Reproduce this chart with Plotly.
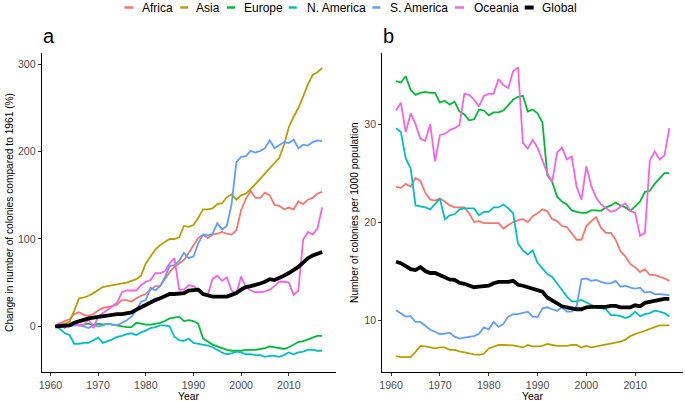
import plotly.graph_objects as go

W, H = 685, 401
years = list(range(1961, 2018))

names = ["Africa", "Asia", "Europe", "N. America", "S. America", "Oceania", "Global"]
colors = ["#F8766D", "#B79F00", "#00BA38", "#00BFC4", "#619CFF", "#F564E3", "#000000"]

# Panel a: change in number of colonies compared to 1961 (%)
a_africa = [0, 3, 6, 8, 14, 16, 13, 12, 14, 18,
            21, 22, 23, 25, 30, 30, 28, 32, 35, 37,
            42, 46, 46, 54, 62, 68, 72, 76, 84, 92,
            101, 105, 101, 105, 106, 108, 106, 105, 110, 133,
            146, 155, 147, 147, 153, 150, 139, 138, 134, 136,
            134, 143, 140, 145, 147, 152, 154]
a_asia = [0, 3, 3, 5, 18, 32, 33, 35, 38, 42,
          45, 46, 47, 48, 49, 50, 52, 54, 58, 72,
          80, 88, 93, 97, 100, 100, 102, 115, 114, 116,
          124, 134, 134, 135, 140, 141, 148, 151, 145, 150,
          152, 157, 163, 168, 174, 181, 187, 193, 208, 228,
          240, 250, 263, 277, 288, 291, 296]
a_europe = [0, 2, 1, 1, 2, 1, 2, 3, 2, 3,
            2, 3, 2, 1, 0, -1, -1, 4, 3, 2,
            2, 3, 4, 6, 9, 10, 11, 6, 7, 6,
            3, -14, -18, -21, -23, -25, -27, -28, -28, -28,
            -27, -27, -27, -26, -25, -23, -24, -25, -26, -24,
            -21, -18, -17, -15, -13, -11, -11]
a_namerica = [0, -3, -8, -10, -20, -20, -19, -19, -16, -13,
              -19, -17, -15, -12, -11, -9, -8, -10, -7, -5,
              -2, -1, 1, 1, 0, -12, -16, -17, -14, -19,
              -20, -21, -22, -24, -27, -30, -32, -31, -29, -30,
              -32, -32, -33, -33, -35, -34, -34, -35, -33, -30,
              -32, -30, -29, -27, -27, -28, -28]
a_samerica = [0, 2, 1, 0, 1, 1, 0, -2, 1, 0,
              1, 3, 2, 1, 4, 7, 11, 18, 28, 30,
              44, 41, 46, 56, 69, 70, 75, 84, 78, 80,
              95, 105, 104, 106, 118, 111, 115, 140, 188, 194,
              195, 201, 199, 201, 204, 213, 204, 208, 211, 210,
              214, 204, 208, 207, 211, 213, 212]
a_oceania = [0, 4, -2, 3, 3, 1, 2, 8, -2, 11,
             15, 19, 23, 27, 39, 41, 41, 41, 47, 51,
             53, 61, 61, 63, 72, 78, 42, 42, 47, 46,
             42, 36, 36, 54, 58, 52, 56, 41, 37, 57,
             45, 41, 39, 39, 40, 42, 46, 51, 51, 50,
             36, 41, 99, 108, 105, 112, 136]
a_global = [0, 0, 0, 1, 4, 6, 7, 9, 10, 11,
            11, 12, 13, 14, 14, 15, 16, 19, 22, 25,
            28, 30, 32, 34, 37, 37, 37, 38, 41, 41,
            42, 37, 35, 34, 34, 34, 34, 36, 38, 42,
            45, 46, 47, 49, 51, 54, 53, 55, 58, 61,
            64, 68, 73, 78, 81, 83, 85]

# Panel b: number of colonies per 1000 population
b_africa = [23.6, 23.5, 23.9, 23.6, 24.5, 24.2, 23.0, 22.3, 22.2, 22.4,
            22.1, 21.7, 21.5, 21.5, 21.5, 20.9, 20.0, 20.1, 19.9, 19.9,
            19.9, 19.9, 19.35, 19.7, 20.0, 20.2, 20.3, 20.0, 20.6, 20.9,
            21.3, 21.1, 20.3, 20.1, 19.6, 19.5, 18.8, 18.2, 18.2, 19.6,
            20.1, 20.5, 19.4, 18.9, 18.9, 18.2, 17.0, 16.5, 15.7, 15.4,
            14.9, 15.2, 14.6, 14.6, 14.4, 14.25, 14.0]
b_asia = [6.3, 6.2, 6.2, 6.2, 6.75, 7.35, 7.3, 7.2, 7.1, 7.2,
          7.2, 6.95, 6.95, 6.8, 6.7, 6.55, 6.5, 6.45, 6.55, 7.1,
          7.3, 7.45, 7.45, 7.45, 7.4, 7.3, 7.2, 7.45, 7.3, 7.3,
          7.35, 7.55, 7.45, 7.35, 7.35, 7.35, 7.45, 7.45, 7.2, 7.35,
          7.2, 7.3, 7.4, 7.45, 7.55, 7.7, 7.8, 8.0, 8.35, 8.55,
          8.7, 8.9, 9.1, 9.3, 9.45, 9.45, 9.45]
b_europe = [34.4, 34.25, 34.9, 33.5, 33.0, 33.2, 33.3, 33.2, 33.2, 32.2,
            32.4, 32.0, 32.3, 31.3, 31.0, 30.4, 30.5, 31.5, 31.4, 30.9,
            31.2, 31.2, 31.4, 31.9, 32.5, 32.8, 32.9, 31.3, 31.5, 31.1,
            30.2, 24.8, 24.1, 22.6, 22.1, 21.8, 21.2, 21.05, 20.95, 20.95,
            21.2, 21.2, 21.15, 21.5, 21.7, 22.0, 21.7, 21.5, 21.15, 21.6,
            22.1, 23.1, 23.2, 23.9, 24.5, 25.0, 25.0]
b_namerica = [29.6, 29.2, 26.5, 25.5, 21.7, 21.6, 21.5, 21.3, 21.8, 22.4,
              20.3, 20.7, 20.8, 21.3, 21.4, 21.4, 21.4, 20.7, 21.05, 21.05,
              21.5, 21.5, 21.8, 21.4, 20.9, 17.8, 17.1, 16.7, 17.1, 15.85,
              15.3, 14.7, 14.4, 13.7, 13.0, 12.4, 11.9, 11.9, 12.05, 11.8,
              11.5, 11.3, 11.2, 11.1, 10.5, 10.5, 10.4, 10.2, 10.4, 10.85,
              10.4, 10.6, 10.7, 10.95, 10.85, 10.7, 10.35]
b_samerica = [11.0, 10.7, 10.35, 10.4, 9.8, 9.8, 9.4, 9.0, 8.8, 8.55,
              8.6, 8.7, 8.3, 8.1, 8.2, 8.3, 8.35, 8.6, 9.25, 9.05,
              9.8, 9.3, 9.6, 10.35, 10.6, 10.6, 10.7, 10.85, 10.35, 10.3,
              11.2, 11.3, 11.1, 10.95, 11.3, 10.85, 10.85, 11.4, 14.15, 14.25,
              14.0, 14.1, 13.9, 13.75, 13.75, 14.0, 13.4, 13.5, 13.3, 13.2,
              13.3, 12.8, 12.9, 12.65, 12.65, 12.6, 12.55]
b_oceania = [31.4, 32.2, 29.2, 31.1, 30.0, 28.5, 28.3, 30.0, 26.2, 28.9,
             29.0, 29.4, 29.6, 29.9, 33.1, 33.0, 32.5, 31.8, 32.9, 33.1,
             33.1, 34.6, 34.0, 33.7, 35.4, 35.8, 28.1, 27.5, 28.4, 27.6,
             26.3, 25.0, 24.1, 27.1, 27.6, 26.4, 26.7, 23.6, 22.3, 25.7,
             23.7, 22.5, 21.8, 21.4, 21.05, 21.2, 21.6, 21.9, 21.15, 20.95,
             18.6, 18.9, 26.3, 27.2, 26.4, 26.8, 29.6]
b_global = [15.95, 15.8, 15.5, 15.2, 15.1, 15.4, 15.0, 14.8, 14.8, 14.6,
            14.3, 14.15, 14.1, 13.8, 13.7, 13.5, 13.35, 13.4, 13.45, 13.5,
            13.75, 13.9, 13.9, 13.9, 14.0, 13.6, 13.5, 13.35, 13.2, 13.05,
            12.9, 12.3, 12.0, 11.7, 11.4, 11.3, 11.2, 11.1, 11.1, 11.3,
            11.35, 11.35, 11.35, 11.35, 11.45, 11.45, 11.3, 11.3, 11.3, 11.5,
            11.4, 11.75, 11.85, 12.0, 12.1, 12.15, 12.15]

x_ticks = [1960, 1970, 1980, 1990, 2000, 2010]
ya_ticks = [0, 100, 200, 300]
yb_ticks = [10, 20, 30]

panel_a = [a_africa, a_asia, a_europe, a_namerica, a_samerica, a_oceania, a_global]
panel_b = [b_africa, b_asia, b_europe, b_namerica, b_samerica, b_oceania, b_global]

FONT = "Liberation Sans, Arial, sans-serif"

fig = go.Figure()
for data, xa, ya in [(panel_a, "x", "y"), (panel_b, "x2", "y2")]:
    for name, col, vals in zip(names, colors, data):
        fig.add_trace(go.Scatter(
            x=years, y=vals, mode="lines", name=name,
            line=dict(color=col, width=3.8 if name == "Global" else 1.8),
            xaxis=xa, yaxis=ya, showlegend=False,
        ))

def px_x(p):
    return p / W

def px_y(p):
    return 1 - p / H

axis_common = dict(
    showline=True, linecolor="black", linewidth=1.1,
    ticks="outside", ticklen=3, tickwidth=1, tickcolor="#333333",
    tickfont=dict(family=FONT, size=10.6, color="#4D4D4D"),
    showgrid=False, zeroline=False,
)
ydom = [px_y(372.3), px_y(53.3)]

fig.update_layout(
    width=W, height=H,
    margin=dict(l=0, r=0, t=0, b=0),
    paper_bgcolor="white", plot_bgcolor="white",
    font=dict(family=FONT, color="black"),
    xaxis=dict(domain=[px_x(39), px_x(334)], range=[1958.2, 2019.8],
               tickvals=x_ticks, anchor="y", **axis_common),
    yaxis=dict(domain=ydom, range=[-52.7, 312.7], tickvals=ya_ticks,
               anchor="x", **axis_common),
    xaxis2=dict(domain=[px_x(381), px_x(683)], range=[1958.2, 2019.8],
                tickvals=x_ticks, anchor="y2", **axis_common),
    yaxis2=dict(domain=ydom, range=[4.66, 37.24], tickvals=yb_ticks,
                anchor="x2", **axis_common),
)

ann = []
# axis titles
for xc in (187, 532):
    ann.append(dict(text="Year", x=px_x(xc), y=0, xref="paper", yref="paper",
                    showarrow=False, xanchor="center", yanchor="bottom",
                    borderpad=0, yshift=-2,
                    font=dict(family=FONT, size=10.4, color="black")))
ann.append(dict(text="Change in number of colonies compared to 1961 (%)",
                x=px_x(6.5), y=px_y(212.5), xref="paper", yref="paper", textangle=-90,
                showarrow=False, xanchor="center", yanchor="middle",
                font=dict(family=FONT, size=10.2, color="black")))
ann.append(dict(text="Number of colonies per 1000 population",
                x=px_x(353), y=px_y(212.5), xref="paper", yref="paper", textangle=-90,
                showarrow=False, xanchor="center", yanchor="middle",
                font=dict(family=FONT, size=10.2, color="black")))
# panel labels
for lab, xp in [("a", 38), ("b", 380)]:
    ann.append(dict(text=lab, x=px_x(xp), y=px_y(36), xref="paper", yref="paper",
                    showarrow=False, xanchor="left", yanchor="middle",
                    font=dict(family=FONT, size=20, color="black")))

# legend (keys + labels) along the top
key_x = [(122, 131), (178, 186), (225, 233), (287, 295), (371, 379), (454, 463), (524, 533)]
text_x = [138, 192, 240, 303, 387, 471, 539]
shapes = []
for name, col, (k0, k1), tx in zip(names, colors, key_x, text_x):
    shapes.append(dict(type="line", xref="paper", yref="paper",
                       x0=px_x(k0), x1=px_x(k1), y0=px_y(7.5), y1=px_y(7.5),
                       line=dict(color=col, width=4 if name == "Global" else 2.5)))
    ann.append(dict(text=name, x=px_x(tx), y=px_y(7.5), xref="paper", yref="paper",
                    showarrow=False, xanchor="left", yanchor="middle",
                    font=dict(family=FONT, size=12, color="black")))

fig.update_layout(annotations=ann, shapes=shapes)
fig.write_html(
    "out.html",
    config={"displayModeBar": False},
    post_script="document.body.style.margin='0';document.body.style.overflow='hidden';",
)
